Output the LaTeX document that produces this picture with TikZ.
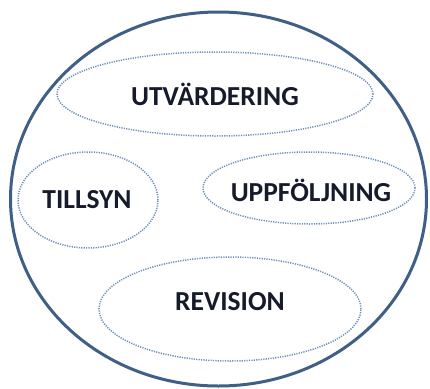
\documentclass[tikz,border=0pt]{standalone}
\usepackage{fontspec}
\setmainfont{Carlito}
\usetikzlibrary{shapes.geometric}
\definecolor{rimblue}{HTML}{3F5F86}
\definecolor{dotblue}{HTML}{6E8FB8}
\definecolor{inkdark}{HTML}{161B2B}
\tikzstyle{outer} = [draw=rimblue, line width=3pt, ellipse, inner sep=0pt]
\tikzstyle{area} = [draw=dotblue, line width=1.5pt, dash pattern=on 1.2pt off 1.2pt, ellipse, inner sep=0pt]
\tikzstyle{lbl} = [text=inkdark, font=\fontsize{27.5}{32}\selectfont\bfseries, inner sep=0pt]

\begin{document}
\begin{tikzpicture}[x=1pt, y=-1pt]
	\useasboundingbox (0,0) rectangle (430,388);

	\node [outer, minimum width=416pt, minimum height=374pt] (helhet) at (218.5,199) {};

	\node [area, minimum width=316pt, minimum height=84pt] (utv) at (215,94) {};
	\node [area, minimum width=140pt, minimum height=96pt] (till) at (88,200) {};
	\node [area, minimum width=212pt, minimum height=72pt] (uppf) at (309,188) {};
	\node [area, minimum width=262pt, minimum height=104pt] (rev) at (230,309) {};

	\node [lbl] (utvtext) at (215,94) {UTVÄRDERING};
	\node [lbl] (tilltext) at (87,200) {TILLSYN};
	\node [lbl] (uppftext) at (311,190) {UPPFÖLJNING};
	\node [lbl] (revtext) at (230,302) {REVISION};
\end{tikzpicture}
\end{document}
